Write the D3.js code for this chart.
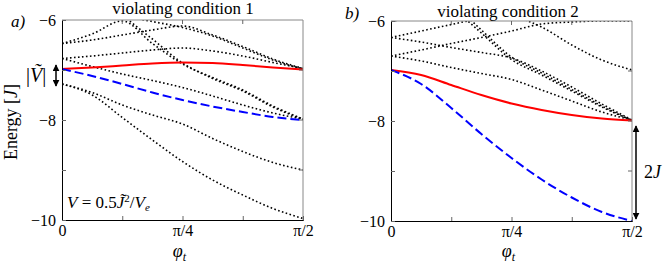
<!DOCTYPE html>
<html>
<head>
<meta charset="utf-8">
<script src="https://cdn.jsdelivr.net/npm/d3@7"></script>
<style>
  body { margin: 0; background: #fff; }
  text { font-family: "Liberation Serif", "Times New Roman", serif; fill: #000; }
</style>
</head>
<body>
<script>
'use strict';

// phi_t sample points (0 .. pi/2, steps of pi/16)
const phi = [0, 0.19635, 0.39270, 0.58905, 0.78540, 0.98175, 1.17810, 1.37445, 1.57080];

// tick values
const xTicks = [0, 0.39270, 0.78540, 1.17810, 1.57080];
const xTickLabels = ["0", "", "\u03C0/4", "", "\u03C0/2"];
const yTicks = [-6, -7, -8, -9, -10];
const yTickLabels = ["\u22126", "", "\u22128", "", "\u221210"];

// panel a) : violating condition 1
const redA  = [-6.98, -6.95, -6.91, -6.87, -6.85, -6.86, -6.90, -6.95, -6.99];
const blueA = [-6.98, -7.12, -7.28, -7.45, -7.60, -7.73, -7.84, -7.94, -8.00];
const levA1 = [-6.47, -6.28, -6.02, -6.47, -6.88, -7.15, -7.40, -7.72, -7.98];
const levA2 = [-4.90, -5.40, -5.90, -6.38, -6.86, -7.17, -7.42, -7.74, -7.99];
const levA3 = [-6.47, -6.40, -6.30, -6.20, -6.12, -6.30, -6.53, -6.78, -6.97];
const levA4 = [-5.30, -5.60, -5.90, -6.03, -6.15, -6.32, -6.56, -6.80, -6.98];
const levA5 = [-6.77, -6.72, -6.66, -6.60, -6.56, -6.62, -6.72, -6.85, -6.97];
const levA6 = [-6.77, -6.93, -7.08, -7.21, -7.35, -7.52, -7.70, -7.86, -7.98];
const levA7 = [-7.28, -7.50, -7.95, -8.40, -8.83, -9.20, -9.50, -9.77, -9.97];
const levA8 = [-7.28, -7.45, -7.70, -7.90, -8.08, -8.37, -8.63, -8.85, -9.00];

// panel b) : violating condition 2
const redB  = [-6.98, -7.08, -7.28, -7.48, -7.65, -7.78, -7.88, -7.95, -7.99];
const blueB = [-6.98, -7.26, -7.74, -8.26, -8.74, -9.17, -9.53, -9.82, -10.00];
const levB1 = [-6.00, -5.93, -5.82, -5.70, -5.60, -5.50, -5.40, -5.30, -5.20];
const levB2 = [-6.33, -6.20, -6.07, -5.94, -5.80, -5.66, -5.52, -5.40, -5.30];
const levB3 = [-6.33, -6.42, -6.53, -6.63, -6.74, -7.00, -7.32, -7.66, -7.98];
const levB4 = [-6.70, -6.58, -6.45, -6.33, -6.20, -6.06, -6.02, -6.00, -6.00];
const levB5 = [-6.70, -6.80, -6.93, -7.05, -7.17, -7.38, -7.60, -7.82, -7.98];
const levB6 = [-4.50, -5.10, -5.70, -6.24, -6.77, -7.08, -7.40, -7.72, -7.99];
const levB7 = [-4.40, -5.00, -5.60, -6.18, -6.72, -7.04, -7.37, -7.70, -7.99];
const levB8 = [-4.60, -5.00, -5.35, -5.70, -5.88, -6.12, -6.48, -6.78, -6.98];

const serif = '"Liberation Serif", "Times New Roman", serif';

const svg = d3.select('body').append('svg')
  .attr('width', 664)
  .attr('height', 267);

const defs = svg.append('defs');
defs.append('marker')
  .attr('id', 'head')
  .attr('viewBox', '0 0 10 10')
  .attr('refX', 9).attr('refY', 5)
  .attr('markerWidth', 7).attr('markerHeight', 7)
  .attr('markerUnits', 'userSpaceOnUse')
  .attr('orient', 'auto-start-reverse')
  .append('path')
  .attr('d', 'M0,0 L10,5 L0,10 Z')
  .attr('fill', '#000');

function drawPanel(id, left, right, top, bottom, red, blue, levels) {
  let x = d3.scaleLinear().domain([0, Math.PI / 2]).range([left, right]);
  let y = d3.scaleLinear().domain([-10, -6]).range([bottom, top]);
  let g = svg.append('g');

  defs.append('clipPath').attr('id', 'clip' + id)
    .append('rect')
    .attr('x', left).attr('y', top)
    .attr('width', right - left).attr('height', bottom - top);

  let line = d3.line()
    .x((d, i) => x(phi[i]))
    .y(d => y(d))
    .curve(d3.curveMonotoneX);

  let plot = g.append('g').attr('clip-path', 'url(#clip' + id + ')');

  levels.forEach(lev => {
    plot.append('path')
      .attr('d', line(lev))
      .attr('fill', 'none')
      .attr('stroke', '#000')
      .attr('stroke-width', 1.6)
      .attr('stroke-dasharray', '1.6,2.4');
  });

  plot.append('path')
    .attr('d', line(red))
    .attr('fill', 'none')
    .attr('stroke', '#ff0000')
    .attr('stroke-width', 2);

  plot.append('path')
    .attr('d', line(blue))
    .attr('fill', 'none')
    .attr('stroke', '#0000ff')
    .attr('stroke-width', 2)
    .attr('stroke-dasharray', '9,4');

  // box
  g.append('line').attr('x1', left).attr('x2', right).attr('y1', top).attr('y2', top)
    .attr('stroke', '#888').attr('stroke-width', 1);
  g.append('line').attr('x1', right).attr('x2', right).attr('y1', top).attr('y2', bottom)
    .attr('stroke', '#888').attr('stroke-width', 1);

  // bottom axis, ticks inside
  let xAxis = d3.axisBottom(x).tickValues(xTicks).tickSize(-4).tickFormat((d, i) => xTickLabels[i]);
  let xa = g.append('g').attr('transform', 'translate(0,' + bottom + ')').call(xAxis)
    .attr('font-family', serif).attr('font-size', 16);
  xa.select('.domain').attr('stroke', '#000');
  xa.selectAll('.tick text').attr('dy', '0.8em');
  xa.selectAll('.tick line').attr('stroke', '#666');

  let yAxis = d3.axisLeft(y).tickValues(yTicks).tickSize(-4).tickFormat((d, i) => yTickLabels[i]);
  let ya = g.append('g').attr('transform', 'translate(' + left + ',0)').call(yAxis)
    .attr('font-family', serif).attr('font-size', 16);
  ya.select('.domain').attr('stroke', '#000');
  ya.selectAll('.tick text').attr('x', -6);
  ya.selectAll('.tick line').attr('stroke', '#666');

  // mirrored ticks on top and right
  g.selectAll('.ttick').data(xTicks.slice(1, -1)).enter().append('line')
    .attr('x1', d => x(d)).attr('x2', d => x(d))
    .attr('y1', top).attr('y2', top + 4)
    .attr('stroke', '#666');
  g.selectAll('.rtick').data(yTicks.slice(1, -1)).enter().append('line')
    .attr('x1', right).attr('x2', right - 4)
    .attr('y1', d => y(d)).attr('y2', d => y(d))
    .attr('stroke', '#666');

  // x label
  let xl = g.append('text')
    .attr('x', (left + right) / 2 - 3).attr('y', 257)
    .attr('text-anchor', 'middle')
    .style('font-size', '18px');
  xl.append('tspan').style('font-style', 'italic').text('\u03C6');
  xl.append('tspan').attr('dy', 4).style('font-size', '12px').style('font-style', 'italic').text('t');

  return { x: x, y: y, g: g };
}

let pa = drawPanel('a', 62, 303, 20, 220, redA, blueA,
  [levA1, levA2, levA3, levA4, levA5, levA6, levA7, levA8]);
let pb = drawPanel('b', 391, 632, 21, 221, redB, blueB,
  [levB1, levB2, levB3, levB4, levB5, levB6, levB7, levB8]);

// titles
svg.append('text').attr('x', 183).attr('y', 14).attr('text-anchor', 'middle')
  .style('font-size', '17px').text('violating condition 1');
svg.append('text').attr('x', 508).attr('y', 17).attr('text-anchor', 'middle')
  .style('font-size', '17px').text('violating condition 2');

// panel labels
svg.append('text').attr('x', 11).attr('y', 27).style('font-size', '17px')
  .style('font-style', 'italic').text('a)');
svg.append('text').attr('x', 345).attr('y', 19).style('font-size', '17px')
  .style('font-style', 'italic').text('b)');

// y label
let yl = svg.append('text')
  .attr('transform', 'translate(17,122)rotate(-90)')
  .attr('text-anchor', 'middle')
  .style('font-size', '18px');
yl.append('tspan').text('Energy [');
yl.append('tspan').style('font-style', 'italic').text('J');
yl.append('tspan').text(']');

// |V~| arrow in panel a
svg.append('line')
  .attr('x1', 56).attr('x2', 56)
  .attr('y1', pa.y(-6.9)).attr('y2', pa.y(-7.32))
  .attr('stroke', '#000').attr('stroke-width', 1.5)
  .attr('marker-start', 'url(#head)').attr('marker-end', 'url(#head)');
let vt = svg.append('text').attr('x', 26).attr('y', 82).style('font-size', '20px');
vt.append('tspan').text('|');
vt.append('tspan').style('font-style', 'italic').text('V\u0303');
vt.append('tspan').text('|');

// annotation
let ann = svg.append('text').attr('x', 67).attr('y', 208).style('font-size', '17px');
ann.append('tspan').style('font-style', 'italic').text('V');
ann.append('tspan').text(' = 0.5');
ann.append('tspan').style('font-style', 'italic').text('J\u0303');
ann.append('tspan').attr('dy', -6).style('font-size', '11px').text('2');
ann.append('tspan').attr('dy', 6).text('/');
ann.append('tspan').style('font-style', 'italic').text('V');
ann.append('tspan').attr('dy', 3).style('font-size', '11px').style('font-style', 'italic').text('e');

// 2J arrow in panel b
svg.append('line')
  .attr('x1', 636).attr('x2', 636)
  .attr('y1', pb.y(-8.1)).attr('y2', pb.y(-9.96))
  .attr('stroke', '#000').attr('stroke-width', 1.5)
  .attr('marker-start', 'url(#head)').attr('marker-end', 'url(#head)');
let tj = svg.append('text').attr('x', 644).attr('y', 178).style('font-size', '18px');
tj.append('tspan').text('2');
tj.append('tspan').style('font-style', 'italic').text('J');
</script>
</body>
</html>
